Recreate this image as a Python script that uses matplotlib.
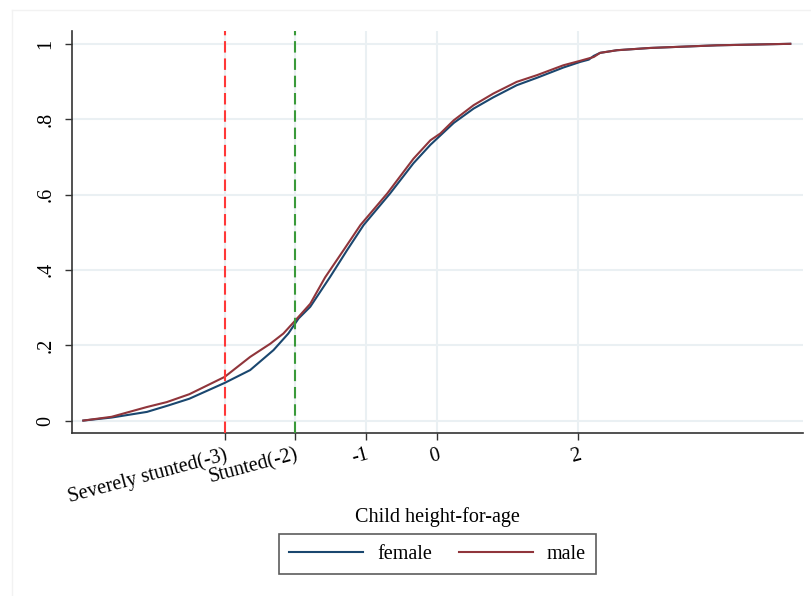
import matplotlib
matplotlib.use("Agg")
from matplotlib import pyplot as plt
from matplotlib.lines import Line2D

plt.rcParams['font.family'] = ['Liberation Serif', 'DejaVu Serif']

female_x = [-5.0, -4.6, -4.1, -3.8, -3.5, -3.0, -2.64, -2.31, -2.10, -1.955,
            -1.79, -1.51, -1.27, -1.035, -0.66, -0.33, -0.09, 0.24, 0.52, 0.80,
            1.13, 1.42, 1.79, 2.03, 2.15, 2.22, 2.31, 2.55, 3.02, 3.96, 5.0]
female_y = [0.0, 0.008, 0.023, 0.040, 0.058, 0.100, 0.134, 0.187, 0.231, 0.271,
            0.302, 0.381, 0.452, 0.519, 0.603, 0.683, 0.732, 0.79, 0.828, 0.858,
            0.89, 0.91, 0.937, 0.952, 0.958, 0.968, 0.976, 0.983, 0.989, 0.996, 1.0]
male_x = [-5.0, -4.6, -4.1, -3.82, -3.5, -3.0, -2.64, -2.355, -2.17, -2.0,
          -1.79, -1.58, -1.32, -1.08, -0.70, -0.33, -0.09, 0.05, 0.24, 0.52,
          0.80, 1.13, 1.42, 1.79, 2.03, 2.22, 2.31, 2.55, 3.02, 3.96, 5.0]
male_y = [0.0, 0.01, 0.036, 0.049, 0.07, 0.116, 0.169, 0.204, 0.231, 0.266,
          0.31, 0.38, 0.452, 0.519, 0.603, 0.695, 0.744, 0.762, 0.797, 0.837,
          0.868, 0.899, 0.917, 0.943, 0.955, 0.965, 0.976, 0.983, 0.989, 0.996, 1.0]

xticks = [-3, -2, -1, 0, 2]
xtick_labels = ["Severely stunted(-3)", "Stunted(-2)", "-1", "0", "2"]
yticks = [0, 0.2, 0.4, 0.6, 0.8, 1.0]
ytick_labels = ["0", ".2", ".4", ".6", ".8", "1"]
cutoffs = [-3, -2]
cutoff_colors = ["#ff3838", "#3a9a3a"]

navy = "#1a476f"
maroon = "#90353b"
grid_c = "#eaf0f3"
axis_c = "#333333"
fs = 14.5

fig = plt.figure(figsize=(8.11, 5.96), dpi=100)
ax = fig.add_axes([72 / 811, 163 / 596, 731 / 811, 402 / 596])

ax.plot(female_x, female_y, color=navy, lw=1.5, label="female", zorder=3)
ax.plot(male_x, male_y, color=maroon, lw=1.5, label="male", zorder=4)

for c, col in zip(cutoffs, cutoff_colors):
    ax.axvline(c, color=col, lw=1.5, dashes=(5.5, 2.8), zorder=5)

ax.set_xlim(-5.16, 5.18)
ax.set_ylim(-0.033, 1.034)

ax.set_xticks(xticks)
ax.set_xticklabels(xtick_labels, rotation=15, ha='right', va='top',
                   rotation_mode='anchor', fontsize=fs)
ax.set_yticks(yticks)
ax.set_yticklabels(ytick_labels, rotation=90, va='center', fontsize=fs)

ax.grid(True, color=grid_c, lw=1.5, zorder=0)
ax.set_axisbelow(True)

for s in ['top', 'right']:
    ax.spines[s].set_visible(False)
for s in ['left', 'bottom']:
    ax.spines[s].set_color(axis_c)
    ax.spines[s].set_linewidth(1.2)
ax.tick_params(axis='both', direction='out', length=5, width=1.0,
               color=axis_c, labelcolor='black')
ax.tick_params(axis='y', pad=7)
ax.tick_params(axis='x', pad=4)

ax.set_xlabel("Child height-for-age", fontsize=fs)
ax.xaxis.set_label_coords(0.5, -0.185)

handles = [Line2D([], [], color=navy, lw=1.5), Line2D([], [], color=maroon, lw=1.5)]
leg = fig.legend(handles, ["female", "male"], loc='center',
                 bbox_to_anchor=(437.5 / 811, 1 - 554 / 596), ncol=2,
                 fontsize=fs, frameon=True, fancybox=False, handlelength=3.7,
                 columnspacing=1.35, handletextpad=0.67, borderpad=0.5,
                 borderaxespad=0, edgecolor=axis_c)
leg.get_frame().set_linewidth(1.2)

# faint outer graph-region border
fig.add_artist(Line2D([12 / 811, 12 / 811], [0, 1 - 10 / 596],
                      transform=fig.transFigure, color="#f2f2f2", lw=1))
fig.add_artist(Line2D([12 / 811, 1], [1 - 10 / 596, 1 - 10 / 596],
                      transform=fig.transFigure, color="#f2f2f2", lw=1))

fig.savefig("out.png", dpi=100)
